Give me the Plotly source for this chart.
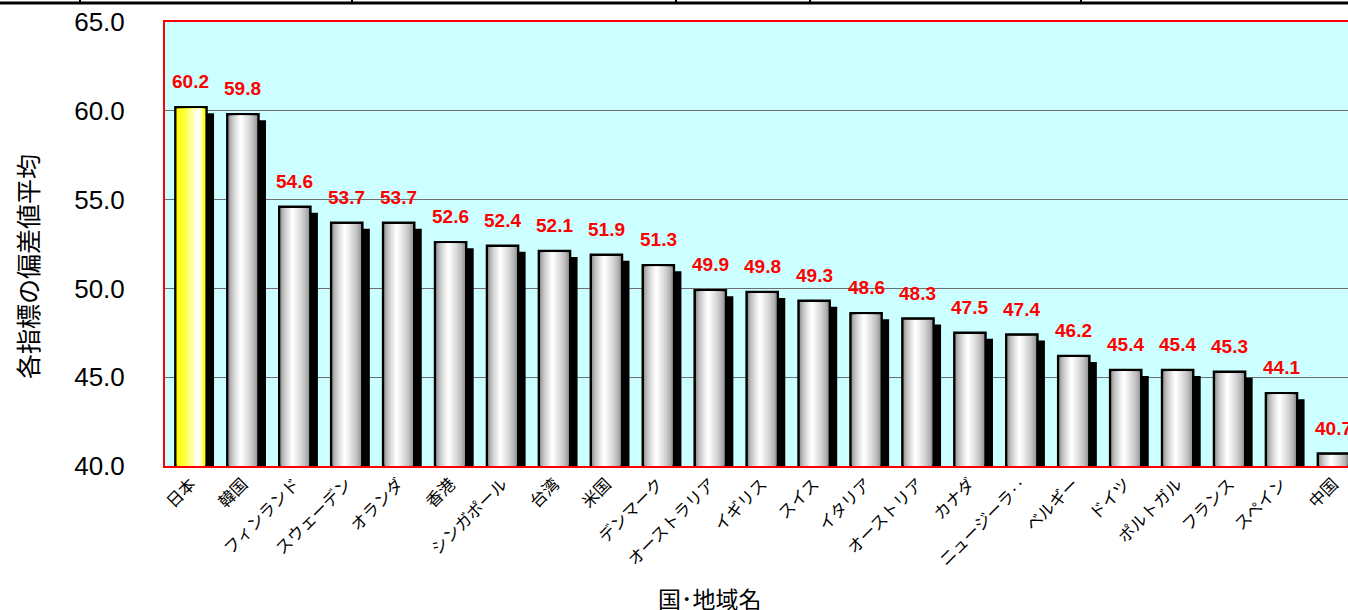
import plotly.graph_objects as go

# ---------------- data ----------------
categories = ["日本", "韓国", "フィンランド", "スウェーデン", "オランダ", "香港",
              "シンガポール", "台湾", "米国", "デンマーク", "オーストラリア", "イギリス",
              "スイス", "イタリア", "オーストリア", "カナダ", "ニュージーラ‥", "ベルギー",
              "ドイツ", "ポルトガル", "フランス", "スペイン", "中国"]
values = [60.2, 59.8, 54.6, 53.7, 53.7, 52.6, 52.4, 52.1, 51.9, 51.3, 49.9, 49.8,
          49.3, 48.6, 48.3, 47.5, 47.4, 46.2, 45.4, 45.4, 45.3, 44.1, 40.7]
highlight = "日本"
y_ticks = [40, 45, 50, 55, 60, 65]
y_title = "各指標の偏差値平均"
x_title = "国･地域名"

# ---------------- geometry / style ----------------
W, H = 1348, 610
ML, MT, MB = 165, 22, 144
plot_w = W - ML
plot_h = H - MT - MB
cat_px = 51.93
x_max = -0.5 + plot_w / cat_px
y_lo, y_hi = 40, 65
px_per_unit = plot_h / (y_hi - y_lo)

bar_w = 0.6
shadow_dx = 7.5 / cat_px
shadow_dy = 6 / px_per_unit
FONT = "Liberation Sans, Arial, sans-serif"
JFONT = "Noto Sans CJK JP, sans-serif"

n = len(categories)
x_idx = list(range(n))

fig = go.Figure()

# shadow
fig.add_trace(go.Bar(
    x=x_idx, y=[v - y_lo for v in values], base=[y_lo - shadow_dy] * n,
    width=[bar_w] * n, offset=[-bar_w / 2 + shadow_dx] * n,
    marker=dict(color="black", line=dict(width=0)),
    hoverinfo="skip", cliponaxis=False, showlegend=False))

# outer bar with outline
def edge_color(i):
    return "#FFFF00" if categories[i] == highlight else "#9C9C9C"

fig.add_trace(go.Bar(
    x=x_idx, y=[v - y_lo for v in values], base=[y_lo] * n,
    width=[bar_w] * n, offset=[-bar_w / 2] * n,
    marker=dict(color=[edge_color(i) for i in range(n)],
                line=dict(color="black", width=2.5)),
    hoverinfo="skip", cliponaxis=False, showlegend=False))

# gradient layers
inset = 1.4 / cat_px
Wi = bar_w - 2 * inset
top_inset = 1.4 / px_per_unit
N = 12


def lerp(c1, c2, t):
    return "#%02X%02X%02X" % tuple(int(round(a + (b - a) * t)) for a, b in zip(c1, c2))


for k in range(N):
    t = k / N
    widths, offsets, colors = [], [], []
    for i in range(n):
        if categories[i] == highlight:
            peak = 0.8
            c = lerp((255, 255, 0), (255, 255, 255), min(1, (t / 0.9) ** 1.2))
        else:
            peak = 0.42
            c = lerp((156, 156, 156), (255, 255, 255), min(1, t ** 0.7 * 1.05))
        a = peak * t
        b = 1 - (1 - peak) * t
        offsets.append(-Wi / 2 + a * Wi)
        widths.append((b - a) * Wi)
        colors.append(c)
    fig.add_trace(go.Bar(
        x=x_idx, y=[v - y_lo - top_inset for v in values], base=[y_lo] * n,
        width=widths, offset=offsets,
        marker=dict(color=colors, line=dict(width=0)),
        hoverinfo="skip", showlegend=False))

# value labels
annotations = []
for i, v in enumerate(values):
    annotations.append(dict(
        x=i, y=v, xref="x", yref="y", text=f"{v:.1f}", showarrow=False,
        yanchor="bottom", yshift=13,
        font=dict(family=FONT, size=19, color="red", weight="bold")))

# axis titles as annotations
annotations.append(dict(
    x=(710 - ML) / plot_w, y=(H - MB - 598) / plot_h, xref="paper", yref="paper",
    text=x_title, showarrow=False, xanchor="center", yanchor="middle",
    font=dict(family=JFONT, size=23, color="black")))
annotations.append(dict(
    x=(27 - ML) / plot_w, y=(H - MB - 267) / plot_h, xref="paper", yref="paper",
    text=y_title, showarrow=False, textangle=-90, xanchor="center", yanchor="middle",
    font=dict(family=JFONT, size=25, color="black")))

# decorative cropped line at top of image
shapes = []
def px_x(p):
    return (p - ML) / plot_w
def px_y(p):
    return (H - MB - p) / plot_h

shapes.append(dict(type="line", xref="paper", yref="paper",
                   x0=px_x(0), x1=px_x(W), y0=px_y(3), y1=px_y(3),
                   line=dict(color="black", width=3)))
for tx in [80, 352, 676, 810, 1081]:
    shapes.append(dict(type="line", xref="paper", yref="paper",
                       x0=px_x(tx), x1=px_x(tx), y0=px_y(0), y1=px_y(3),
                       line=dict(color="black", width=2)))

fig.update_layout(
    width=W, height=H,
    margin=dict(l=ML, r=0, t=MT, b=MB),
    barmode="overlay",
    plot_bgcolor="#CCFFFF",
    paper_bgcolor="white",
    showlegend=False,
    annotations=annotations,
    shapes=shapes,
    xaxis=dict(
        range=[-0.5, x_max], tickmode="array", tickvals=x_idx, ticktext=categories,
        tickangle=-45, tickfont=dict(family=JFONT, size=16.5, color="black"),
        showgrid=False, zeroline=False,
        showline=True, linecolor="red", linewidth=2, mirror=True,
        ticks="", layer="above traces"),
    yaxis=dict(
        range=[y_lo, y_hi], tickmode="array", tickvals=y_ticks,
        ticktext=[f"{t:.1f}" for t in y_ticks],
        tickfont=dict(family=FONT, size=26, color="black"),
        ticklabelstandoff=33,
        showgrid=True, gridcolor="#6E6E6E", gridwidth=1, zeroline=False,
        showline=True, linecolor="red", linewidth=2, ticks=""),
)

fig.write_html(
    "out.html",
    config={"displayModeBar": False},
    post_script="document.body.style.margin='0';document.body.style.overflow='hidden';",
)
